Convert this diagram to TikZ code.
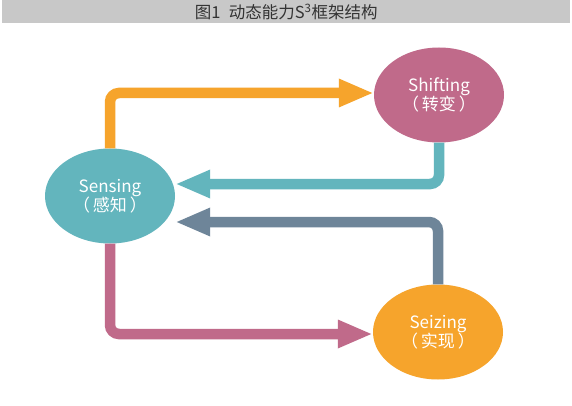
\documentclass[tikz,border=0pt]{standalone}
\usepackage{fontspec}
\setmainfont{Noto Sans CJK SC}
\usetikzlibrary{arrows.meta,shapes.geometric}
\definecolor{barGray}{HTML}{C8C8C8}
\definecolor{titleText}{HTML}{333333}
\definecolor{cTeal}{HTML}{63B5BD}
\definecolor{cPink}{HTML}{C06A8A}
\definecolor{cOrange}{HTML}{F6A42C}
\definecolor{cSlate}{HTML}{6E8599}
\tikzset{
  stage/.style={ellipse, draw=none, minimum width=130pt, minimum height=95pt, inner sep=0pt,
    text=white, align=center, font=\fontsize{17}{19.5}\selectfont},
  flow/.style={line width=10.5pt, rounded corners=9pt, -{Triangle[length=35pt,width=26pt]}}
}
\begin{document}
\begin{tikzpicture}[x=1pt,y=-1pt]
\useasboundingbox (0,0) rectangle (572,406);
\fill[white] (0,0) rectangle (572,406);
\node[fill=barGray, minimum width=568pt, minimum height=23pt, inner sep=0pt, anchor=north west,
  text=titleText, font=\fontsize{16.5}{18}\selectfont] (title) at (2,0) {图1\hspace{0.5em}动态能力S\textsuperscript{3}框架结构};
\node[stage, fill=cTeal] (sensing) at (110,196) {Sensing\\（\,感知\,）};
\node[stage, fill=cPink] (shifting) at (439,95) {Shifting\\（\,转变\,）};
\node[stage, fill=cOrange] (seizing) at (438,332) {Seizing\\（\,实现\,）};
\draw[flow, cOrange] (sensing.north) |- ([yshift=2pt]shifting.west);
\draw[flow, cTeal] (shifting.south) |- ([yshift=12pt]sensing.east);
\draw[flow, cSlate] (seizing.north) |- ([yshift=-26pt]sensing.east);
\draw[flow, cPink] (sensing.south) |- ([yshift=-2pt]seizing.west);
\end{tikzpicture}
\end{document}
